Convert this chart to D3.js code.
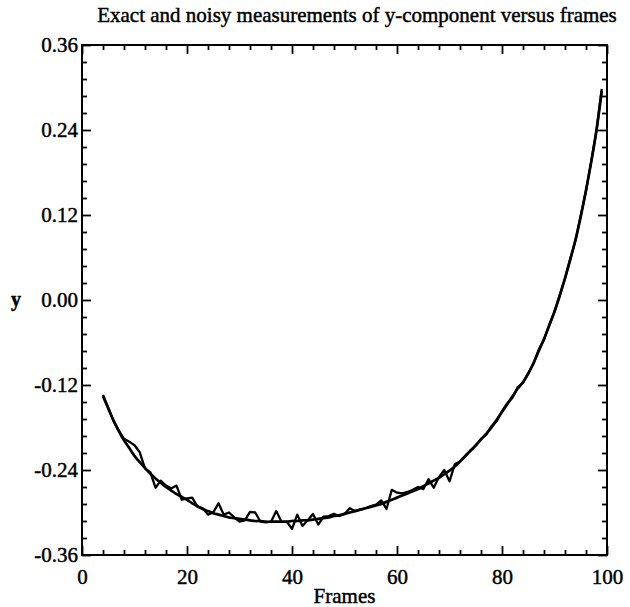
<!DOCTYPE html>
<html>
<head>
<meta charset="utf-8">
<script src="https://cdn.jsdelivr.net/npm/d3@7"></script>
<style>
  body { margin: 0; background: #fff; }
  text { font-family: "Liberation Serif", "DejaVu Serif", serif; fill: #000; stroke: #000; stroke-width: 0.45px; }
</style>
</head>
<body>
<svg id="chart" width="630" height="607"></svg>
<script>
// ---- data ----
const frames = d3.range(4, 100); // frames 4..99
const exactY = [
  -0.136, -0.153, -0.170, -0.185, -0.198, -0.209, -0.220, -0.229, -0.237, -0.245,
  -0.252, -0.258, -0.264, -0.269, -0.274, -0.278, -0.282, -0.287, -0.291, -0.295,
  -0.298, -0.301, -0.303, -0.305, -0.307, -0.308, -0.309, -0.310, -0.311, -0.312,
  -0.312, -0.313, -0.313, -0.313, -0.313, -0.313, -0.312, -0.312, -0.311, -0.311,
  -0.310, -0.309, -0.308, -0.307, -0.305, -0.304, -0.302, -0.300, -0.298, -0.296,
  -0.294, -0.292, -0.290, -0.288, -0.285, -0.282, -0.279, -0.276, -0.273, -0.270,
  -0.267, -0.263, -0.259, -0.255, -0.251, -0.246, -0.241, -0.235, -0.228, -0.220,
  -0.213, -0.205, -0.197, -0.189, -0.180, -0.169, -0.158, -0.147, -0.136, -0.125,
  -0.116, -0.104, -0.089, -0.072, -0.055, -0.036, -0.016, 0.006, 0.031, 0.057,
  0.085, 0.118, 0.155, 0.195, 0.240, 0.295
];
const noisyY = [
  -0.134, -0.152, -0.171, -0.184, -0.196, -0.200, -0.205, -0.215, -0.238, -0.243,
  -0.265, -0.255, -0.262, -0.266, -0.262, -0.282, -0.280, -0.279, -0.292, -0.294,
  -0.303, -0.300, -0.287, -0.303, -0.300, -0.307, -0.313, -0.311, -0.299, -0.300,
  -0.313, -0.314, -0.313, -0.298, -0.313, -0.313, -0.323, -0.303, -0.319, -0.311,
  -0.302, -0.317, -0.306, -0.305, -0.302, -0.305, -0.302, -0.294, -0.298, -0.296,
  -0.294, -0.291, -0.289, -0.283, -0.295, -0.268, -0.272, -0.273, -0.271, -0.268,
  -0.264, -0.267, -0.253, -0.265, -0.250, -0.240, -0.256, -0.232, -0.228, -0.221,
  -0.212, -0.206, -0.196, -0.190, -0.178, -0.171, -0.157, -0.146, -0.138, -0.123,
  -0.117, -0.103, -0.090, -0.070, -0.056, -0.035, -0.017, 0.007, 0.030, 0.058,
  0.084, 0.119, 0.154, 0.196, 0.239, 0.298
];
const xTicks = [0, 20, 40, 60, 80, 100];
const xTickLabels = ["0", "20", "40", "60", "80", "100"];
const yTicks = [0.36, 0.24, 0.12, 0.00, -0.12, -0.24, -0.36];
const yTickLabels = ["0.36", "0.24", "0.12", "0.00", "-0.12", "-0.24", "-0.36"];
const titleText = "Exact and noisy measurements of y-component versus frames";
const xTitle = "Frames";
const yTitle = "y";

// ---- layout ----
const W = 630, H = 607;
const m = { left: 82, right: 23, top: 45, bottom: 52 };
const iw = W - m.left - m.right, ih = H - m.top - m.bottom;

const svg = d3.select("#chart");
const g = svg.append("g").attr("transform", `translate(${m.left},${m.top})`);

const x = d3.scaleLinear().domain([0, 100]).range([0, iw]);
const y = d3.scaleLinear().domain([-0.36, 0.36]).range([ih, 0]);

const xMinor = d3.range(0, 101, 4).filter(v => v % 20 !== 0);
const yMinor = d3.range(-15, 16).map(i => +(i * 0.024).toFixed(3)).filter(v => Math.abs(Math.round(v * 1000)) % 120 !== 0);

function styleAxis(sel) {
  sel.select(".domain").remove();
  sel.selectAll(".tick line").attr("stroke", "#000").attr("stroke-width", 1.8);
}

// bottom major
g.append("g").attr("transform", `translate(0,${ih})`)
  .call(d3.axisBottom(x).tickValues(xTicks).tickSize(-9).tickFormat((d, i) => xTickLabels[i]).tickPadding(14))
  .call(styleAxis)
  .call(s => s.selectAll("text").attr("font-size", 21).attr("font-family", "Liberation Serif"));
// bottom minor
g.append("g").attr("transform", `translate(0,${ih})`)
  .call(d3.axisBottom(x).tickValues(xMinor).tickSize(-5).tickFormat(""))
  .call(styleAxis);
// top
g.append("g")
  .call(d3.axisTop(x).tickValues(xTicks).tickSize(-9).tickFormat(""))
  .call(styleAxis);
g.append("g")
  .call(d3.axisTop(x).tickValues(xMinor).tickSize(-5).tickFormat(""))
  .call(styleAxis);
// left
g.append("g")
  .call(d3.axisLeft(y).tickValues(yTicks).tickSize(-9).tickFormat((d, i) => yTickLabels[i]).tickPadding(4))
  .call(styleAxis)
  .call(s => s.selectAll("text").attr("font-size", 21).attr("font-family", "Liberation Serif"));
g.append("g")
  .call(d3.axisLeft(y).tickValues(yMinor).tickSize(-5).tickFormat(""))
  .call(styleAxis);
// right
g.append("g").attr("transform", `translate(${iw},0)`)
  .call(d3.axisRight(y).tickValues(yTicks).tickSize(-9).tickFormat(""))
  .call(styleAxis);
g.append("g").attr("transform", `translate(${iw},0)`)
  .call(d3.axisRight(y).tickValues(yMinor).tickSize(-5).tickFormat(""))
  .call(styleAxis);

// frame
g.append("rect").attr("x", 0).attr("y", 0).attr("width", iw).attr("height", ih)
  .attr("fill", "none").attr("stroke", "#000").attr("stroke-width", 2);

// lines
const exactData = frames.map((f, i) => [f, exactY[i]]);
const noisyData = frames.map((f, i) => [f, noisyY[i]]);

g.append("path").datum(exactData)
  .attr("fill", "none").attr("stroke", "#000").attr("stroke-width", 2.7)
  .attr("d", d3.line().x(d => x(d[0])).y(d => y(d[1])).curve(d3.curveCatmullRom));
g.append("path").datum(noisyData)
  .attr("fill", "none").attr("stroke", "#000").attr("stroke-width", 2.3)
  .attr("stroke-linejoin", "round")
  .attr("d", d3.line().x(d => x(d[0])).y(d => y(d[1])));

// titles
svg.append("text").attr("x", 357).attr("y", 22).attr("text-anchor", "middle")
  .attr("font-size", 21).text(titleText);
svg.append("text").attr("x", m.left + iw / 2).attr("y", 603).attr("text-anchor", "middle")
  .attr("font-size", 21).text(xTitle);
svg.append("text").attr("x", 16).attr("y", y(0) + m.top + 6).attr("text-anchor", "middle")
  .attr("font-size", 20).attr("font-weight", "bold").text(yTitle);
</script>
</body>
</html>
